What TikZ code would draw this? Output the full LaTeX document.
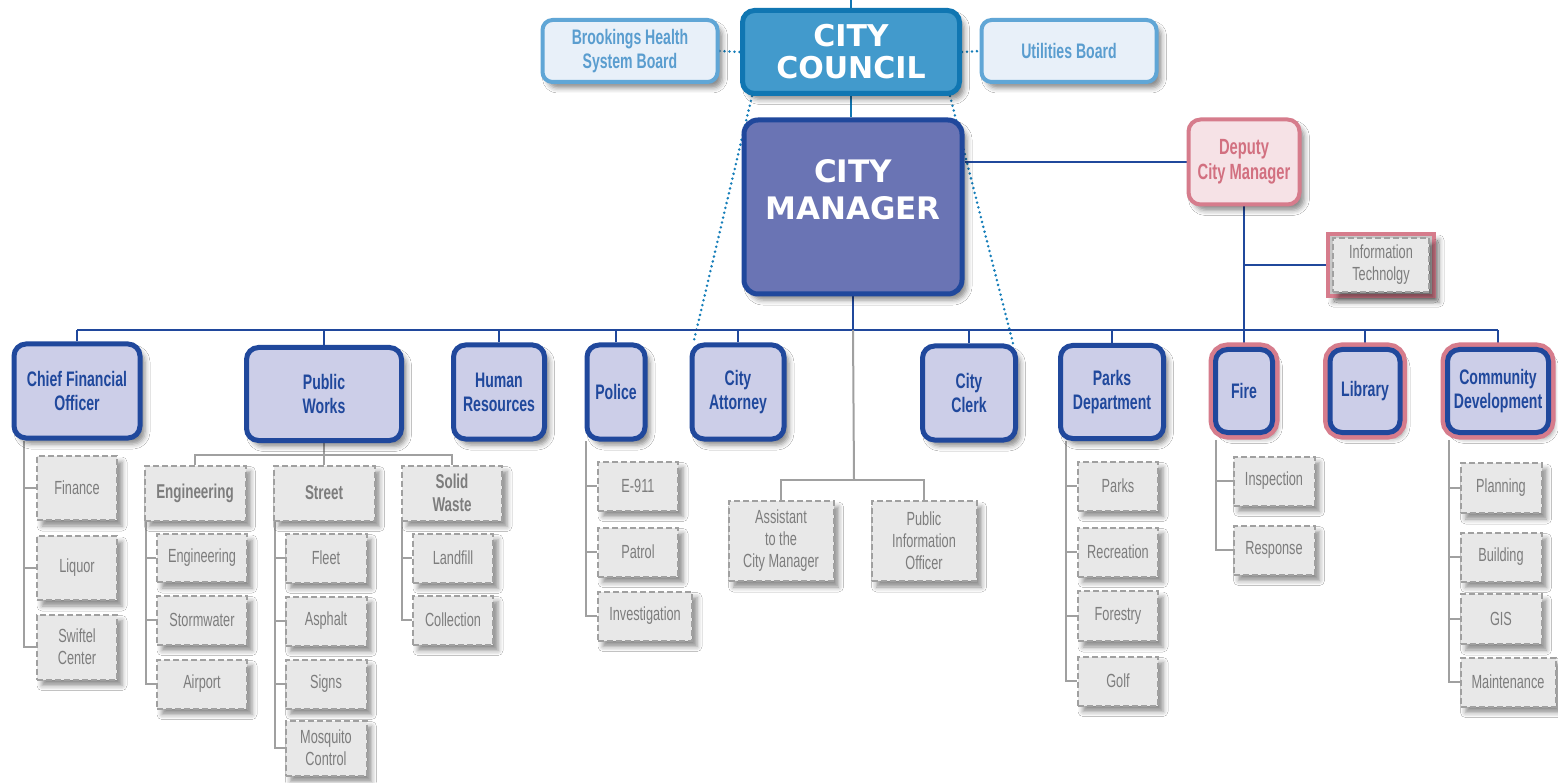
\documentclass[tikz,border=0pt]{standalone}
\usepackage{fontspec}
\setmainfont{Liberation Sans}
\newfontfamily\narrowfont[FakeStretch=0.67]{Liberation Sans}
\newfontfamily\headfont{DejaVu Sans}
\usepackage{tikz}
\usetikzlibrary{shadows.blur, backgrounds}

\definecolor{councilfill}{RGB}{66,154,204}
\definecolor{councilline}{RGB}{16,118,178}
\definecolor{boardfill}{RGB}{232,240,249}
\definecolor{boardline}{RGB}{96,166,214}
\definecolor{boardtext}{RGB}{90,157,207}
\definecolor{mgrfill}{RGB}{106,116,180}
\definecolor{deptfill}{RGB}{204,206,232}
\definecolor{deptline}{RGB}{32,72,156}
\definecolor{pinkfill}{RGB}{246,226,230}
\definecolor{pinkline}{RGB}{214,124,140}
\definecolor{pinktext}{RGB}{210,112,128}
\definecolor{subfill}{RGB}{232,232,232}
\definecolor{subline}{RGB}{160,160,160}
\definecolor{subtext}{RGB}{125,125,125}
\definecolor{dotblue}{RGB}{20,125,185}

\tikzset{
	boxshadow/.style={blur shadow={shadow xshift=5pt, shadow yshift=-6pt, shadow blur radius=5pt, shadow opacity=45}},
	wh/.style 2 args={minimum width=#1pt, minimum height=#2pt},
	councilbox/.style={draw=councilline, fill=councilfill, line width=5pt, rounded corners=12pt, text=white, font=\headfont\bfseries\fontsize{30}{32}\selectfont, align=center, inner sep=0pt, boxshadow},
	boardbox/.style={draw=boardline, fill=boardfill, line width=4pt, rounded corners=10pt, text=boardtext, font=\narrowfont\bfseries\fontsize{21}{24}\selectfont, align=center, inner sep=0pt, boxshadow},
	mgrbox/.style={draw=deptline, fill=mgrfill, line width=5pt, rounded corners=14pt, boxshadow},
	mgrtext/.style={text=white, font=\headfont\bfseries\fontsize{31}{37}\selectfont, align=center},
	deptbox/.style={draw=deptline, fill=deptfill, line width=5pt, rounded corners=12pt, text=deptline, font=\narrowfont\bfseries\fontsize{21}{24}\selectfont, align=center, inner sep=0pt, boxshadow},
	pinkdept/.style={deptbox, preaction={draw=pinkline, line width=14pt}},
	deputybox/.style={draw=pinkline, fill=pinkfill, line width=4pt, rounded corners=12pt, text=pinktext, font=\narrowfont\bfseries\fontsize{22}{25}\selectfont, align=center, inner sep=0pt, boxshadow},
	itframe/.style={draw=pinkline, fill=black!22, line width=4pt, boxshadow},
	subbox/.style={draw=subline, fill=subfill, line width=2pt, dash pattern=on 6pt off 3pt, text=subtext, font=\narrowfont\fontsize{19}{22}\selectfont, align=center, inner sep=0pt, boxshadow},
	subhead/.style={subbox, font=\narrowfont\bfseries\fontsize{20}{23}\selectfont},
	blueline/.style={draw=deptline, line width=2pt},
	greyline/.style={draw=subline, line width=2pt},
	tealline/.style={draw=councilline, line width=2pt},
	dotline/.style={draw=dotblue, line width=2.8pt, line cap=round, dash pattern=on 0pt off 5pt}
}

\begin{document}
\begin{tikzpicture}[x=1pt, y=-1pt]
	\useasboundingbox (0,0) rectangle (1558,783);

	\node[councilbox, wh={217}{83}] (council) at (851,52) {CITY\\COUNCIL};
	\node[boardbox, wh={175}{62}] (brook) at (630,51) {Brookings Health\\System Board};
	\node[boardbox, wh={175}{62}] (util) at (1069,51) {Utilities Board};
	\node[mgrbox, wh={218}{174}, label={[mgrtext, yshift=17pt]center:{CITY\\MANAGER}}] (mgr) at (853,207) {};
	\node[deputybox, wh={111}{85}] (dep) at (1244,162) {Deputy\\City Manager};
	\node[itframe, wh={106}{62}] (itf) at (1381,265) {};
	\node[subbox, wh={96}{54}] (it) at (1381,265) {Information\\Technolgy};

	\node[deptbox, wh={126}{94}] (cfo) at (77,391) {Chief Financial\\Officer};
	\node[deptbox, wh={155}{93}] (pw) at (324,394) {Public\\Works};
	\node[deptbox, wh={91}{94}] (hr) at (499,392) {Human\\Resources};
	\node[deptbox, wh={58}{94}] (pol) at (616,392) {Police};
	\node[deptbox, wh={92}{94}] (att) at (738,392) {City\\Attorney};
	\node[deptbox, wh={93}{94}] (clerk) at (969,393) {City\\Clerk};
	\node[deptbox, wh={103}{93}] (parks) at (1112,392) {Parks\\Department};
	\node[pinkdept, wh={57}{83}] (fire) at (1244,391) {Fire};
	\node[pinkdept, wh={70}{83}] (lib) at (1365,391) {Library};
	\node[pinkdept, wh={101}{83}] (cd) at (1498,391) {Community\\Development};

	\node[subbox, wh={80}{64}] (fin) at (77,488) {Finance};
	\node[subbox, wh={80}{64}] (liq) at (77,568) {Liquor};
	\node[subbox, wh={80}{65}] (swi) at (77,647) {Swiftel\\Center};

	\node[subhead, wh={101}{55}] (eng) at (195,493) {Engineering};
	\node[subhead, wh={101}{55}] (str) at (324,493) {Street};
	\node[subhead, wh={100}{55}] (sw) at (452,493) {Solid\\Waste};
	\node[subbox, wh={90}{48}] (eng2) at (202,558) {Engineering};
	\node[subbox, wh={90}{49}] (storm) at (202,620) {Stormwater};
	\node[subbox, wh={90}{49}] (air) at (202,684) {Airport};
	\node[subbox, wh={81}{49}] (fleet) at (326,558) {Fleet};
	\node[subbox, wh={81}{49}] (asph) at (326,621) {Asphalt};
	\node[subbox, wh={81}{49}] (signs) at (326,684) {Signs};
	\node[subbox, wh={81}{55}] (mosq) at (326,748) {Mosquito\\Control};
	\node[subbox, wh={80}{49}] (land) at (453,558) {Landfill};
	\node[subbox, wh={80}{49}] (coll) at (453,620) {Collection};

	\node[subbox, wh={80}{49}] (e911) at (638,486) {E-911};
	\node[subbox, wh={80}{49}] (patrol) at (638,552) {Patrol};
	\node[subbox, wh={94}{49}] (invest) at (645,616) {Investigation};

	\node[subbox, wh={105}{80}] (asst) at (781,541) {Assistant\\to the\\City Manager};
	\node[subbox, wh={105}{80}] (pio) at (924,541) {Public\\Information\\Officer};

	\node[subbox, wh={80}{49}] (parks2) at (1118,486) {Parks};
	\node[subbox, wh={80}{49}] (rec) at (1118,552) {Recreation};
	\node[subbox, wh={80}{50}] (forest) at (1118,616) {Forestry};
	\node[subbox, wh={80}{49}] (golf) at (1118,681) {Golf};

	\node[subbox, wh={81}{49}] (insp) at (1274,481) {Inspection};
	\node[subbox, wh={81}{49}] (resp) at (1274,550) {Response};

	\node[subbox, wh={81}{50}] (plan) at (1501,488) {Planning};
	\node[subbox, wh={81}{49}] (build) at (1501,557) {Building};
	\node[subbox, wh={81}{50}] (gis) at (1501,619) {GIS};
	\node[subbox, wh={95}{49}] (maint) at (1508,682) {Maintenance};

	\begin{scope}[on background layer]
		\fill[white] (0,0) rectangle (1558,783);
		\coordinate (top) at (851,0);
		\draw[tealline] (council.north) -- (top);
		\draw[tealline] (council.south) -- (council.south |- mgr.north);
		\draw[dotline] (brook.east) -- (council.west);
		\draw[dotline] (council.east) -- (util.west);
		\draw[dotline] ([xshift=12pt]council.south west) -- ([xshift=4pt]att.north west);
		\draw[dotline] ([xshift=-12pt]council.south east) -- ([xshift=-5pt]clerk.north east);

		\draw[blueline] (mgr.east |- dep.west) -- (dep.west);
		\draw[blueline] (dep.south) -- (dep.south |- fire.north);
		\draw[blueline] (dep.south |- itf.west) -- (itf.west);
		\coordinate (busL) at (77,330);
		\coordinate (busR) at (1498,330);
		\draw[blueline] (busL) -- (busR);
		\draw[blueline] (mgr.south) -- (mgr.south |- busL);
		\foreach \d in {cfo,pw,hr,pol,att,clerk,parks,lib,cd}
			\draw[blueline] (\d.north) -- (\d.north |- busL);

		\coordinate (cfoT) at (24,441);
		\foreach \s in {fin,liq,swi}
			\draw[greyline] (cfoT) |- (\s.west);
		\coordinate (pwbus) at (324,455);
		\draw[greyline] (pw.south) -- (pwbus);
		\draw[greyline] (eng.north) |- (pwbus) -| (sw.north);
		\draw[greyline] (pwbus) -- (pwbus -| str.north) -- (str.north);
		\coordinate (engT) at (146,521);
		\foreach \s in {eng2,storm,air}
			\draw[greyline] (engT) |- (\s.west);
		\coordinate (strT) at (275,521);
		\foreach \s in {fleet,asph,signs,mosq}
			\draw[greyline] (strT) |- (\s.west);
		\coordinate (swT) at (402,521);
		\foreach \s in {land,coll}
			\draw[greyline] (swT) |- (\s.west);
		\coordinate (polT) at (586,441);
		\foreach \s in {e911,patrol,invest}
			\draw[greyline] (polT) |- (\s.west);
		\coordinate (mgrT) at (854,480);
		\draw[greyline] (mgr.south |- busL) -- (mgrT);
		\draw[greyline] (asst.north) |- (mgrT) -| (pio.north);
		\coordinate (parksT) at (1066,441);
		\foreach \s in {parks2,rec,forest,golf}
			\draw[greyline] (parksT) |- (\s.west);
		\coordinate (fireT) at (1216,440);
		\foreach \s in {insp,resp}
			\draw[greyline] (fireT) |- (\s.west);
		\coordinate (cdT) at (1449,440);
		\foreach \s in {plan,build,gis,maint}
			\draw[greyline] (cdT) |- (\s.west);
	\end{scope}
\end{tikzpicture}
\end{document}
